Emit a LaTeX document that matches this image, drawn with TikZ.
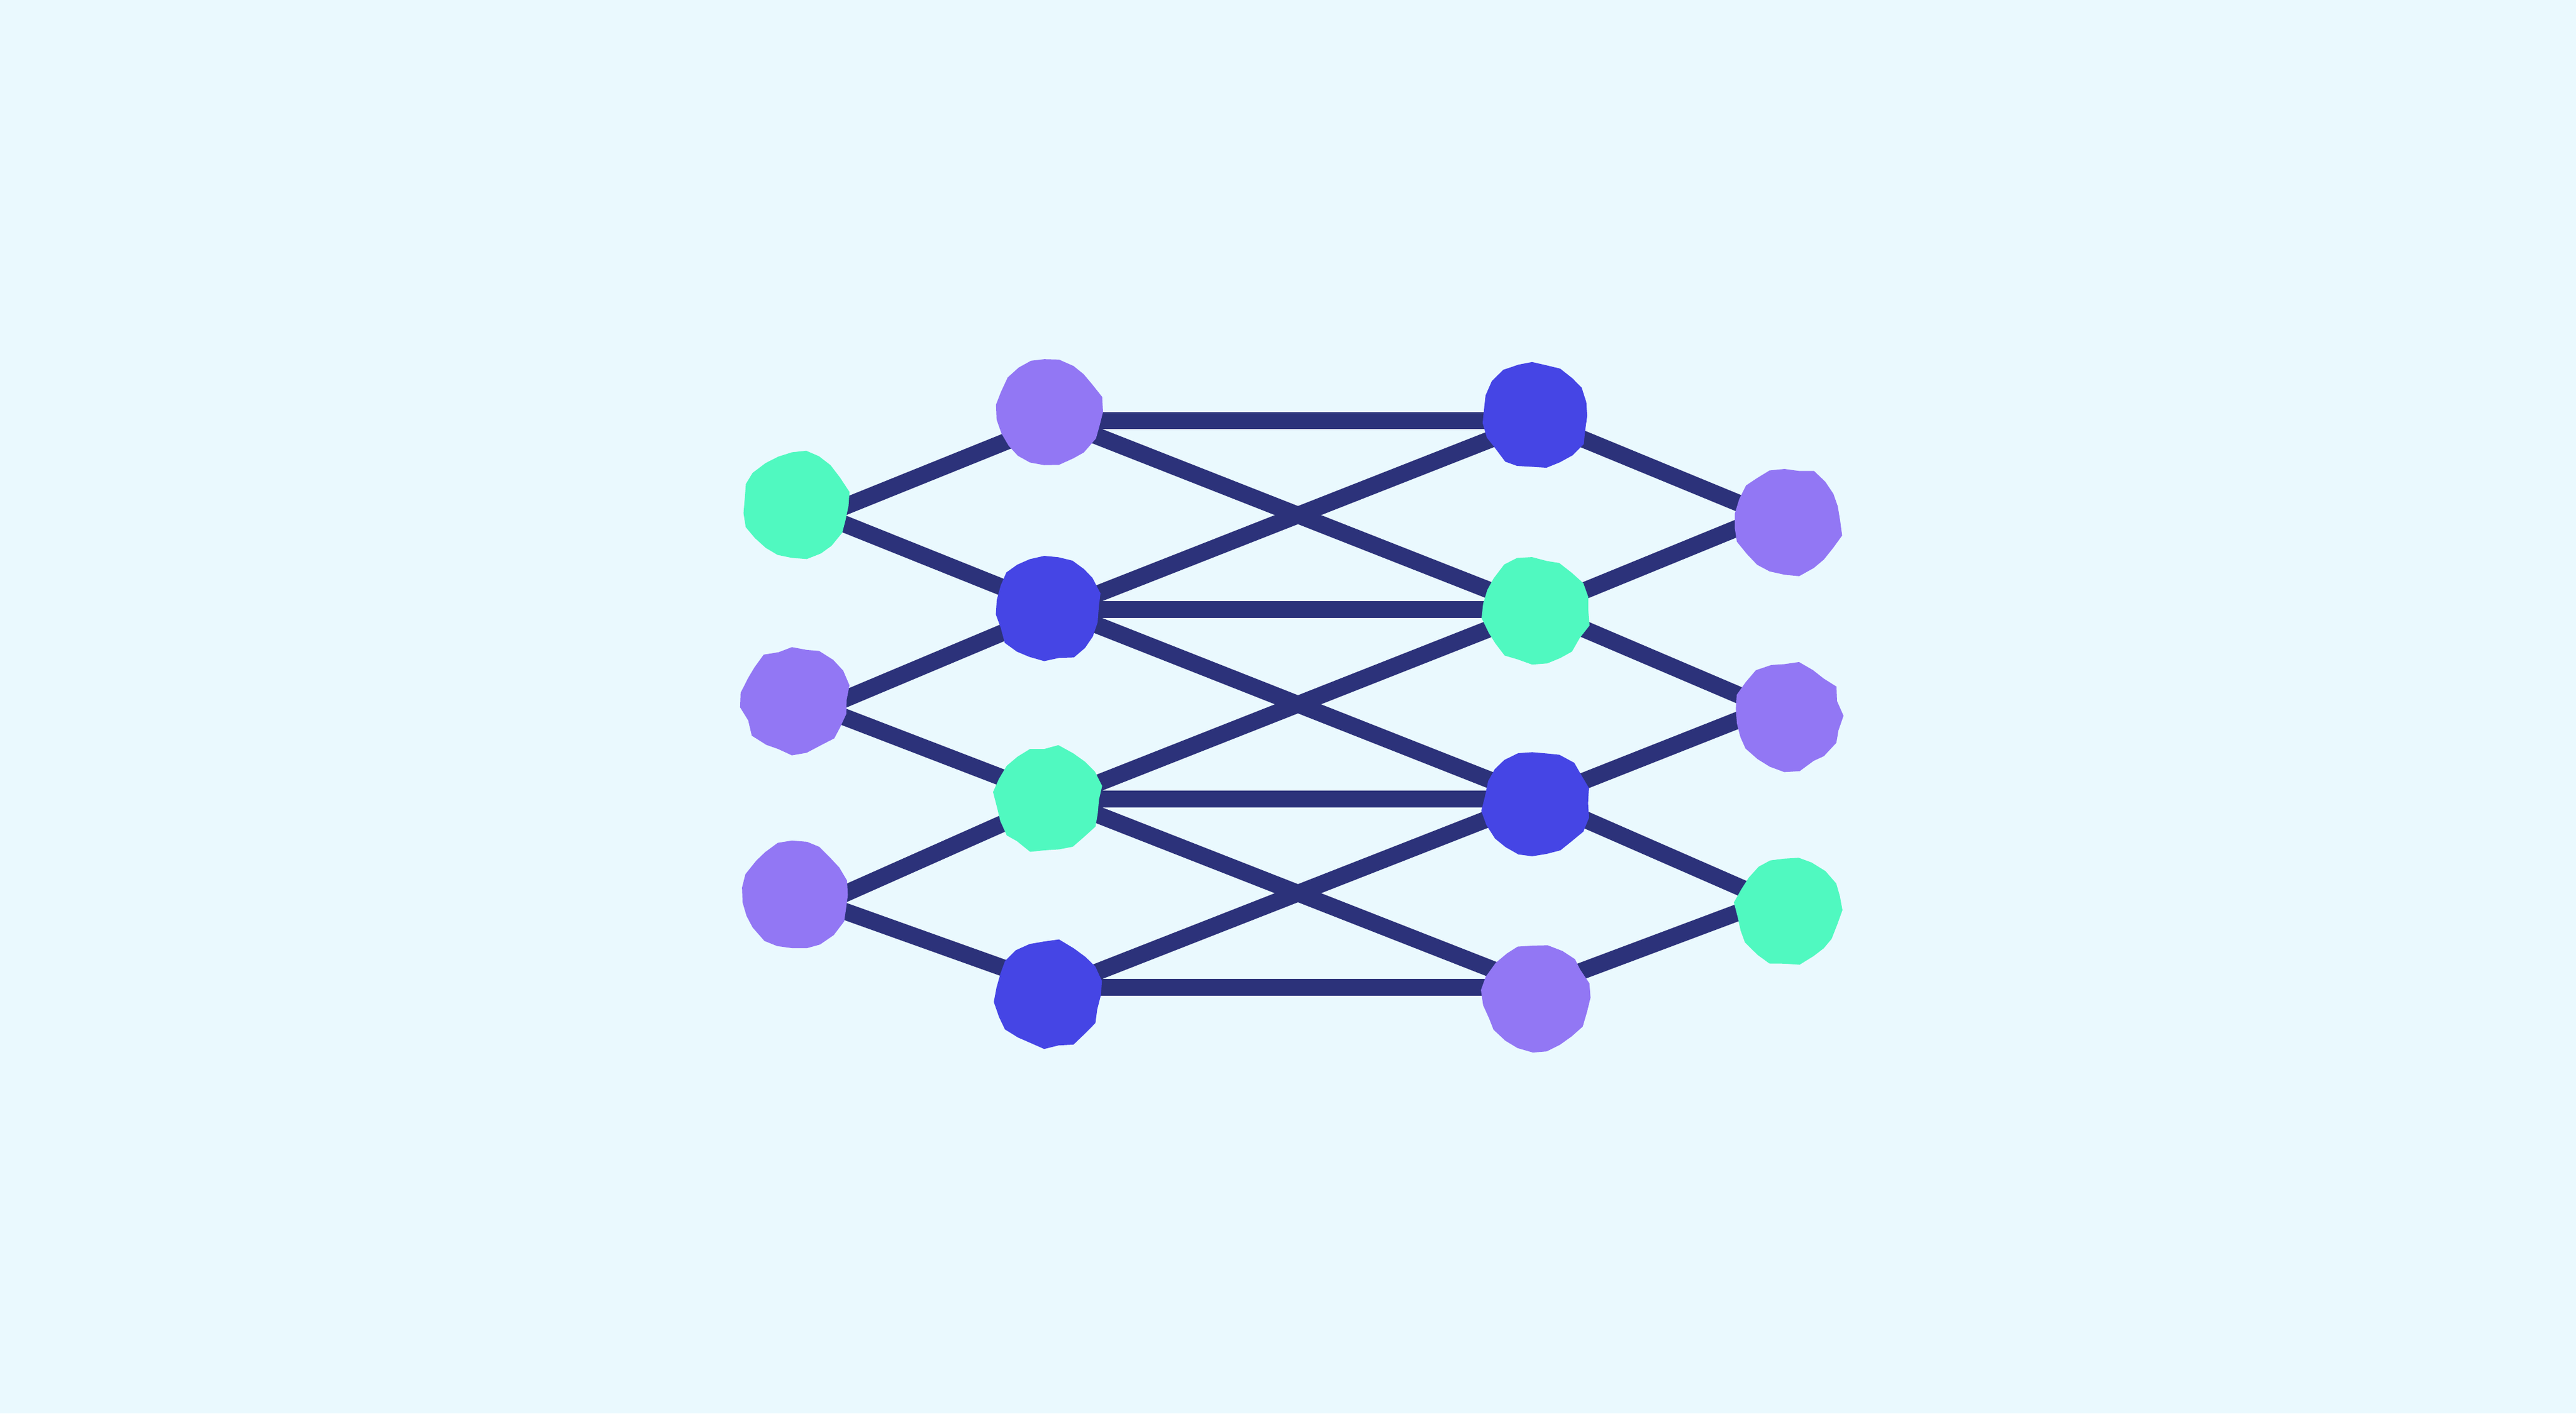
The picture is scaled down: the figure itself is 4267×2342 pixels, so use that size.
\documentclass[tikz,border=0pt]{standalone}
\definecolor{bgc}{RGB}{234,249,254}
\definecolor{edgec}{RGB}{44,50,122}
\definecolor{purp}{RGB}{146,119,244}
\definecolor{bluec}{RGB}{69,69,229}
\definecolor{mint}{RGB}{80,249,192}
\tikzset{
  edge/.style={draw=edgec, line width=2.8pt},
  blobnode/.style={circle, inner sep=0pt, minimum size=18pt},
}
\newcommand{\myblob}[3]{%
  \node[blobnode] (#1) at (#2) {};
  \fill[#3, shift={(#1.center)}]
    plot[samples=23, domain=0:344.35, variable=\t] (\t:{84+10*rnd}) -- cycle;
}
\begin{document}
\begin{tikzpicture}[x=0.1pt,y=-0.1pt]
\pgfmathsetseed{11}
\fill[bgc] (0,0) rectangle (4267,2342);
\useasboundingbox (0,0) rectangle (4267,2342);
% connection hubs
\coordinate (h11) at (1363,854);
\coordinate (h12) at (1362,1174);
\coordinate (h13) at (1363,1497);
\coordinate (h21) at (1752,697);
\coordinate (h22) at (1752,1010);
\coordinate (h23) at (1752,1324);
\coordinate (h24) at (1752,1636);
\coordinate (h31) at (2548,697);
\coordinate (h32) at (2548,1010);
\coordinate (h33) at (2548,1324);
\coordinate (h34) at (2548,1636);
\coordinate (h41) at (2929,854);
\coordinate (h42) at (2930,1173);
\coordinate (h43) at (2932,1492);
% layer 1 -> 2
\draw[edge] (h11) -- (h21);
\draw[edge] (h11) -- (h22);
\draw[edge] (h12) -- (h22);
\draw[edge] (h12) -- (h23);
\draw[edge] (h13) -- (h23);
\draw[edge] (h13) -- (h24);
% layer 2 -> 3
\draw[edge] (h21) -- (h31);
\draw[edge] (h22) -- (h32);
\draw[edge] (h23) -- (h33);
\draw[edge] (h24) -- (h34);
\draw[edge] (h21) -- (h32);
\draw[edge] (h22) -- (h31);
\draw[edge] (h22) -- (h33);
\draw[edge] (h23) -- (h32);
\draw[edge] (h23) -- (h34);
\draw[edge] (h24) -- (h33);
% layer 3 -> 4
\draw[edge] (h31) -- (h41);
\draw[edge] (h32) -- (h41);
\draw[edge] (h32) -- (h42);
\draw[edge] (h33) -- (h42);
\draw[edge] (h33) -- (h43);
\draw[edge] (h34) -- (h43);
% nodes
\myblob{n11}{1318,838}{mint}
\myblob{n12}{1318,1160}{purp}
\myblob{n13}{1318,1483}{purp}
\myblob{n21}{1736,683}{purp}
\myblob{n22}{1736,1006}{bluec}
\myblob{n23}{1736,1325}{mint}
\myblob{n24}{1736,1648}{bluec}
\myblob{n31}{2544,689}{bluec}
\myblob{n32}{2544,1012}{mint}
\myblob{n33}{2544,1331}{bluec}
\myblob{n34}{2545,1653}{purp}
\myblob{n41}{2962,863}{purp}
\myblob{n42}{2962,1186}{purp}
\myblob{n43}{2962,1508}{mint}
\end{tikzpicture}
\end{document}
